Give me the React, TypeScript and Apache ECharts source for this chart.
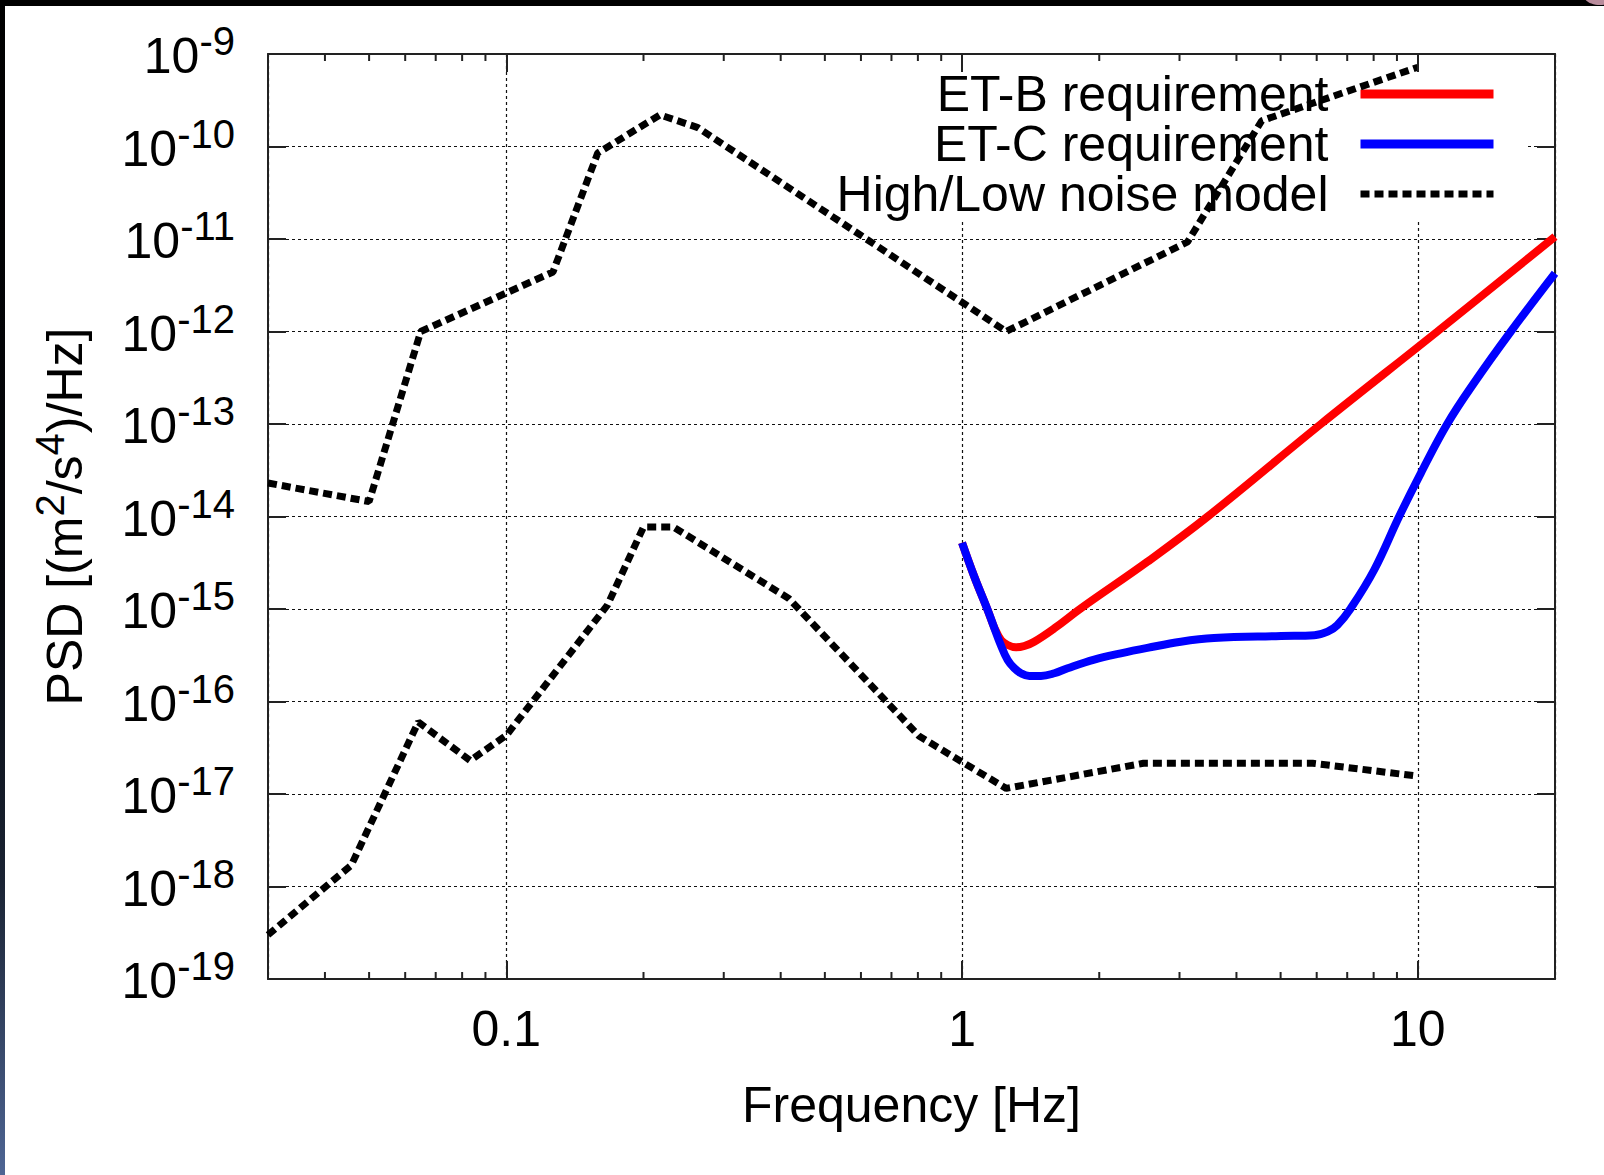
import { useEffect, useRef } from "react";
import * as echarts from "echarts";

// High noise model (vertices of the piecewise curve)
const highFreq = [0.03, 0.05, 0.0649, 0.1266, 0.1587, 0.2174, 0.2632, 1.25, 3.125, 4.545, 10];
const highPsd = [2.3e-14, 1.45e-14, 1.0e-12, 4.4e-12, 8.5e-11, 2.2e-10, 1.6e-10, 1.0e-12, 9.3e-12, 1.9e-10, 7.2e-10];

// Low noise model
const lowFreq = [0.03, 0.0457, 0.0641, 0.0833, 0.1, 0.1667, 0.2, 0.2326, 0.4167, 0.806, 1.25, 2.5, 5.88, 10];
const lowPsd = [3.0e-19, 1.7e-18, 6.0e-17, 2.3e-17, 4.3e-17, 1.1e-15, 7.7e-15, 7.7e-15, 1.3e-15, 4.2e-17, 1.15e-17, 2.15e-17, 2.15e-17, 1.56e-17];

// ET-B requirement
const etbFreq = [1.0, 1.064, 1.138, 1.177, 1.218, 1.259, 1.313, 1.37, 1.44, 1.594, 1.824, 2.55, 3.46, 6.13, 11.04, 20];
const etbPsd = [5.2e-15, 2.23e-15, 9.75e-16, 6.3e-16, 4.6e-16, 4.08e-16, 3.85e-16, 3.98e-16, 4.43e-16, 6.18e-16, 1.02e-15, 3.24e-15, 1.0e-14, 1.0e-13, 1.0e-12, 1.06e-11];

// ET-C requirement
const etcFreq = [
  1.0, 1.064, 1.138, 1.218, 1.259, 1.302, 1.347, 1.405, 1.49, 1.594, 1.705, 1.95, 2.23, 2.55, 3.02, 3.57,
  5.01, 5.93, 6.34, 6.66, 7.13, 8.02, 9.1, 10.15, 11.6, 13.3, 16.0, 20,
];
const etcPsd = [
  5.2e-15, 2.23e-15, 9.75e-16, 4.0e-16, 2.81e-16, 2.29e-16, 2.02e-16, 1.89e-16, 1.89e-16, 2.02e-16, 2.29e-16,
  2.84e-16, 3.32e-16, 3.8e-16, 4.43e-16, 4.85e-16, 5.1e-16, 5.2e-16, 5.69e-16, 6.7e-16, 1.02e-15,
  2.64e-15, 1.0e-14, 2.93e-14, 1.0e-13, 2.8e-13, 1.0e-12, 4.26e-12,
];

// Axis ticks
const xMajorTicks = [0.1, 1, 10];
const xTickLabels = ["0.1", "1", "10"];
const xMinorTicks = [0.04, 0.05, 0.06, 0.07, 0.08, 0.09, 0.2, 0.3, 0.4, 0.5, 0.6, 0.7, 0.8, 0.9, 2, 3, 4, 5, 6, 7, 8, 9];
const xRange = [0.03, 20];
const yRange = [1e-19, 1e-9];

const legendNames = ["ET-B requirement", "ET-C requirement", "High/Low noise model"];

const FONT = "'Liberation Sans', Arial, Helvetica, sans-serif";
const FRAME = "#222";
const DASH = [9, 5];
const RED = "#ff0000";
const BLUE = "#0000ff";
const BLACK = "#000000";

const pairs = (xs: number[], ys: number[]) => xs.map((x, i) => [x, ys[i]]);

const isPow10 = (v: number) => {
  const l = Math.log10(v);
  return Math.abs(l - Math.round(l)) < 1e-6;
};

const supRich = {
  b: { fontSize: 50, lineHeight: 60, verticalAlign: "bottom", fontFamily: FONT, color: "#000" },
  s: { fontSize: 40, lineHeight: 12, verticalAlign: "top", fontFamily: FONT, color: "#000" },
};

export default function App() {
  const ref = useRef<HTMLDivElement>(null);

  useEffect(() => {
    if (!ref.current) return;
    const chart = echarts.init(ref.current, null, { renderer: "svg" });

    const axisLine = { show: true, lineStyle: { color: FRAME, width: 2 } };
    const axisTick = { show: true, inside: true, length: 18, lineStyle: { color: FRAME, width: 2 } };
    const gridLine = { show: true, lineStyle: { color: "#111", width: 1.2, type: [3, 3] } };

    const xLabel = (v: number) => {
      const i = xMajorTicks.findIndex((t) => Math.abs(Math.log10(t) - Math.log10(v)) < 1e-6);
      return i >= 0 ? xTickLabels[i] : "";
    };
    const yLabel = (v: number) => {
      if (!isPow10(v)) return "";
      return `{b|10}{s|${Math.round(Math.log10(v))}}`;
    };

    const noiseLine = { color: BLACK, width: 7, type: DASH, cap: "butt" };

    chart.setOption({
      animation: false,
      textStyle: { fontFamily: FONT },
      graphic: [
        { type: "rect", shape: { x: 0, y: 0, width: 1604, height: 6 }, style: { fill: "#000" }, z: 10 },
        {
          type: "rect",
          shape: { x: 0, y: 0, width: 5, height: 1175 },
          style: {
            fill: {
              type: "linear", x: 0, y: 0, x2: 0, y2: 1,
              colorStops: [
                { offset: 0, color: "#000" },
                { offset: 0.5, color: "#05070c" },
                { offset: 0.75, color: "#1a2333" },
                { offset: 1, color: "#4e6594" },
              ],
            },
          },
          z: 10,
        },
        { type: "ellipse", shape: { cx: 1600, cy: -4, rx: 16, ry: 9 }, style: { fill: "#b98c9c" }, z: 11 },
      ],
      grid: { left: 268, top: 54, right: 49, bottom: 196 },
      legend: {
        orient: "vertical",
        align: "right",
        right: 76,
        top: 55,
        padding: [14, 30, 2, 125],
        itemGap: 0,
        itemWidth: 133,
        itemHeight: 9,
        backgroundColor: "#fff",
        z: 1,
        selectedMode: false,
        itemStyle: { opacity: 0 },
        textStyle: { fontSize: 50, lineHeight: 49.5, color: "#000", fontFamily: FONT, padding: [0, 27, 0, 0] },
        data: [
          { name: legendNames[0], lineStyle: { width: 9, color: RED }, itemStyle: { opacity: 0 } },
          { name: legendNames[1], lineStyle: { width: 9, color: BLUE }, itemStyle: { opacity: 0 } },
          { name: legendNames[2], lineStyle: { width: 7, color: BLACK, type: DASH }, itemStyle: { opacity: 0 } },
        ],
      },
      xAxis: [
        {
          type: "log",
          logBase: 10,
          min: xRange[0],
          max: xRange[1],
          position: "bottom",
          name: "Frequency [Hz]",
          nameLocation: "middle",
          nameGap: 126,
          nameTextStyle: { fontSize: 50, color: "#000", verticalAlign: "middle", fontFamily: FONT },
          axisLine,
          axisTick,
          minorTick: { show: false },
          axisLabel: { formatter: xLabel, fontSize: 50, color: "#000", margin: 50, verticalAlign: "middle", fontFamily: FONT },
          splitLine: gridLine,
        },
        {
          type: "log",
          logBase: 10,
          min: xRange[0],
          max: xRange[1],
          position: "top",
          z: 3,
          axisLine,
          axisTick,
          axisLabel: { show: false },
          splitLine: { show: false },
        },
      ],
      yAxis: [
        {
          type: "log",
          logBase: 10,
          min: yRange[0],
          max: yRange[1],
          interval: 1,
          splitNumber: 10,
          position: "left",
          name: "{b|PSD [(m}{s|2}{b|/s}{s|4}{b|)/Hz]}",
          nameLocation: "middle",
          nameGap: 208,
          nameRotate: 90,
          nameTextStyle: { fontSize: 50, color: "#000", verticalAlign: "middle", align: "center", rich: supRich },
          axisLine,
          axisTick,
          axisLabel: { formatter: yLabel, margin: 33, padding: [0, 0, 6, 0], rich: supRich },
          splitLine: gridLine,
        },
        {
          type: "log",
          logBase: 10,
          min: yRange[0],
          max: yRange[1],
          interval: 1,
          splitNumber: 10,
          position: "right",
          axisLine,
          axisTick,
          axisLabel: { show: false },
          splitLine: { show: false },
        },
      ],
      series: [
        {
          name: legendNames[2],
          type: "line",
          data: pairs(highFreq, highPsd),
          symbol: "none",
          z: 2,
          itemStyle: { color: BLACK },
          lineStyle: noiseLine,
        },
        {
          name: legendNames[2],
          type: "line",
          data: pairs(lowFreq, lowPsd),
          symbol: "none",
          z: 2,
          itemStyle: { color: BLACK },
          lineStyle: noiseLine,
        },
        {
          name: legendNames[0],
          type: "line",
          data: pairs(etbFreq, etbPsd),
          symbol: "none",
          smooth: 0.4,
          z: 2,
          itemStyle: { color: RED },
          lineStyle: { color: RED, width: 8 },
        },
        {
          name: legendNames[1],
          type: "line",
          data: pairs(etcFreq, etcPsd),
          symbol: "none",
          smooth: 0.4,
          z: 2,
          itemStyle: { color: BLUE },
          lineStyle: { color: BLUE, width: 8 },
        },
        {
          type: "custom",
          silent: true,
          z: 3,
          data: xMinorTicks.map((f) => [f, 1e-14]),
          renderItem: (_params: any, api: any) => {
            const f = api.value(0);
            const b = api.coord([f, yRange[0]]);
            const t = api.coord([f, yRange[1]]);
            const style = { stroke: FRAME, lineWidth: 2 };
            return {
              type: "group",
              children: [
                { type: "line", shape: { x1: b[0], y1: b[1], x2: b[0], y2: b[1] - 7 }, style },
                { type: "line", shape: { x1: t[0], y1: t[1], x2: t[0], y2: t[1] + 7 }, style },
              ],
            };
          },
        },
      ],
    });

    return () => chart.dispose();
  }, []);

  return (
    <div
      ref={ref}
      style={{ position: "absolute", left: 0, top: 0, width: 1604, height: 1175, background: "#fff" }}
    />
  );
}
